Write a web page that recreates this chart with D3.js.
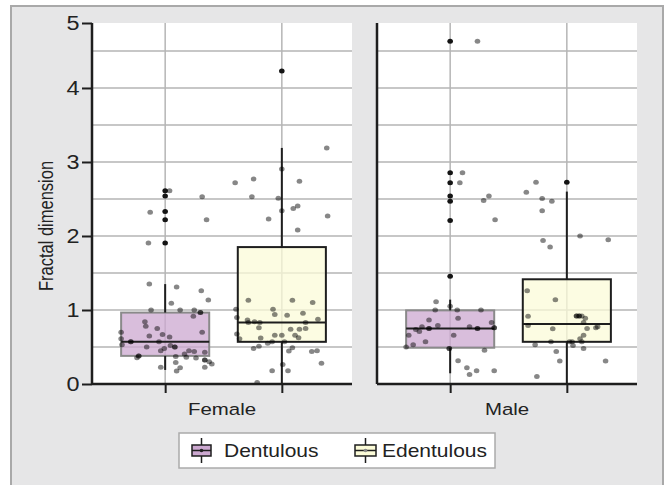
<!DOCTYPE html>
<html>
<head>
<meta charset="utf-8">
<script src="https://cdn.jsdelivr.net/npm/d3@7"></script>
<style>
  body { margin: 0; background: #fff; }
  text { font-family: "Liberation Sans", Arial, sans-serif; fill: #222; }
</style>
</head>
<body>
<div id="chart"></div>
<script>
// categories
const sexes = ["Female", "Male"];
const groups = ["Dentulous", "Edentulous"];

// box stats: [lower whisker, q1, median, q3, upper whisker]
const femaleDentulousBox = [0.19, 0.38, 0.57, 0.965, 1.35];
const femaleEdentulousBox = [0.01, 0.57, 0.83, 1.85, 3.19];
const maleDentulousBox = [0.145, 0.49, 0.75, 0.995, 1.14];
const maleEdentulousBox = [0.0, 0.57, 0.81, 1.415, 2.6];

// outliers
const femaleDentulousOut = [2.61, 2.54, 2.33, 2.22, 1.905];
const femaleEdentulousOut = [4.23];
const maleDentulousOut = [4.63, 2.855, 2.72, 2.54, 2.47, 2.21, 1.455];
const maleEdentulousOut = [2.725];

// jittered observations: [offset (fraction of box width), value]
const femaleDentulousPts = [
  [0.05, 2.61], [0.42, 2.53], [-0.17, 2.32], [0.47, 2.22], [-0.19, 1.905],
  [-0.18, 1.35], [0.13, 1.31], [0.41, 1.26], [0.07, 1.09], [0.49, 1.135],
  [-0.16, 1.0], [0.17, 1.0], [0.33, 1.0], [0.32, 0.915], [0.40, 0.965], [0.40, 0.965],
  [-0.23, 0.84], [-0.22, 0.78], [-0.09, 0.75], [-0.50, 0.70], [-0.18, 0.65],
  [-0.03, 0.67], [0.05, 0.635], [0.42, 0.70], [-0.50, 0.61], [-0.49, 0.53],
  [-0.39, 0.57], [-0.39, 0.57], [-0.07, 0.57], [0.06, 0.52], [0.11, 0.50], [0.11, 0.50],
  [-0.21, 0.50], [-0.05, 0.45], [-0.01, 0.48], [-0.30, 0.38], [-0.30, 0.38],
  [-0.32, 0.355], [0.12, 0.37], [0.22, 0.405], [0.27, 0.45], [0.33, 0.44],
  [0.45, 0.43], [0.24, 0.36], [0.35, 0.35], [0.45, 0.325], [0.45, 0.325], [0.50, 0.30],
  [0.53, 0.27], [0.12, 0.29], [-0.05, 0.225], [0.17, 0.22], [0.13, 0.175], [0.45, 0.225]
];
const femaleEdentulousPts = [
  [-0.53, 2.72], [-0.32, 2.77], [-0.34, 2.53], [-0.04, 2.51], [0.00, 2.905],
  [0.20, 2.74], [0.51, 3.19], [-0.15, 2.23], [0.00, 2.34], [0.13, 2.37],
  [0.18, 2.405], [0.18, 2.08], [0.52, 2.27], [-0.38, 1.13], [0.12, 1.13],
  [0.35, 1.10], [-0.52, 1.01], [-0.10, 1.01], [-0.08, 0.94], [0.06, 0.93],
  [0.24, 0.955], [-0.51, 0.90], [0.41, 0.875], [-0.39, 0.865], [-0.38, 0.83],
  [-0.31, 0.84], [-0.26, 0.76], [-0.25, 0.83], [0.27, 0.83], [0.10, 0.74],
  [0.20, 0.74], [0.27, 0.75], [-0.51, 0.675], [-0.48, 0.61], [-0.24, 0.62],
  [-0.08, 0.66], [0.00, 0.66], [0.15, 0.66], [0.19, 0.625], [-0.11, 0.57],
  [-0.16, 0.55], [0.03, 0.57], [-0.32, 0.48], [-0.26, 0.51], [0.08, 0.445],
  [0.12, 0.49], [0.34, 0.44], [0.40, 0.45], [0.45, 0.28], [0.01, 0.265],
  [-0.11, 0.18], [0.07, 0.18], [-0.28, 0.02]
];
const maleDentulousPts = [
  [0.31, 4.63], [0.14, 2.855], [0.11, 2.72], [0.44, 2.54], [0.38, 2.48],
  [0.51, 2.22], [-0.16, 1.11], [0.0, 1.05], [-0.17, 1.0], [0.08, 1.0],
  [0.35, 1.0], [-0.24, 0.865], [0.09, 0.89], [-0.14, 0.79], [-0.32, 0.775],
  [-0.35, 0.71], [-0.39, 0.735], [-0.24, 0.75], [-0.24, 0.75], [0.31, 0.75],
  [0.31, 0.75], [0.50, 0.76], [0.50, 0.76], [0.22, 0.775], [0.47, 0.83],
  [-0.47, 0.66], [0.04, 0.66], [-0.28, 0.57], [-0.50, 0.50], [-0.42, 0.53],
  [-0.01, 0.48], [-0.01, 0.48], [0.39, 0.455], [0.09, 0.315], [0.19, 0.22],
  [0.22, 0.13], [0.30, 0.18], [0.50, 0.18]
];
const maleEdentulousPts = [
  [-0.35, 2.725], [-0.46, 2.59], [-0.28, 2.505], [-0.17, 2.47], [-0.28, 2.34],
  [-0.27, 1.94], [-0.19, 1.85], [0.15, 2.0], [0.47, 1.95], [-0.45, 1.26],
  [-0.13, 1.14], [-0.44, 0.915], [0.11, 0.92], [0.11, 0.92], [0.14, 0.92],
  [0.14, 0.92], [0.17, 0.92], [0.21, 0.89], [0.19, 0.83], [-0.44, 0.79],
  [-0.16, 0.745], [0.23, 0.75], [0.33, 0.76], [0.35, 0.775], [0.19, 0.66],
  [0.15, 0.61], [-0.18, 0.57], [0.03, 0.57], [0.06, 0.57], [0.17, 0.57],
  [-0.36, 0.53], [0.07, 0.52], [0.19, 0.48], [-0.12, 0.44], [-0.08, 0.31],
  [0.44, 0.31], [-0.34, 0.10]
];

// y axis ticks (top of axis is labelled 5)
const yTop = 4.878;
const yTicks = [0, 1, 2, 3, 4, yTop];
const yTickLabels = ["0", "1", "2", "3", "4", "5"];

const series = [
  { sex: "Female", group: "Dentulous", box: femaleDentulousBox, out: femaleDentulousOut, pts: femaleDentulousPts },
  { sex: "Female", group: "Edentulous", box: femaleEdentulousBox, out: femaleEdentulousOut, pts: femaleEdentulousPts },
  { sex: "Male", group: "Dentulous", box: maleDentulousBox, out: maleDentulousOut, pts: maleDentulousPts },
  { sex: "Male", group: "Edentulous", box: maleEdentulousBox, out: maleEdentulousOut, pts: maleEdentulousPts }
];

const W = 665, H = 485;
const SX = 1.2; // the picture is wider than it is tall, text too

const svg = d3.select("#chart").append("svg")
  .attr("width", W).attr("height", H);

// outer frame
svg.append("rect")
  .attr("x", 11).attr("y", 6).attr("width", 652).attr("height", H)
  .attr("fill", "#e6e6e7").attr("stroke", "#a9a9a9").attr("stroke-width", 2);

const y = d3.scaleLinear().domain([0, yTop]).range([384, 23]);
const panel = d3.scaleBand().domain(sexes).range([92, 637]).paddingInner(25 / 285);
const xIn = d3.scalePoint().domain(groups).range([2, 261]).padding(0.61);
const boxW = xIn.step() * 0.755;

const fill = { Dentulous: "#cca8d0", Edentulous: "#fbfbd8" };
const edge = { Dentulous: "#8a8a8a", Edentulous: "#1e1e1e" };

sexes.forEach(sex => {
  const g = svg.append("g").attr("transform", `translate(${panel(sex)},0)`);
  const pw = panel.bandwidth();

  g.append("rect").attr("x", 0).attr("y", y(yTop)).attr("width", pw)
    .attr("height", y(0) - y(yTop)).attr("fill", "#fff");

  // horizontal grid every 0.5
  g.append("g").selectAll("line")
    .data(d3.range(0.5, 4.6, 0.5))
    .join("line")
    .attr("x1", 0).attr("x2", pw)
    .attr("y1", d => y(d)).attr("y2", d => y(d))
    .attr("stroke", "#b5b5b5").attr("stroke-width", 1.5);

  // vertical grid at group centres
  g.append("g").selectAll("line")
    .data(groups)
    .join("line")
    .attr("x1", d => xIn(d)).attr("x2", d => xIn(d))
    .attr("y1", y(yTop)).attr("y2", y(0))
    .attr("stroke", "#b5b5b5").attr("stroke-width", 1.5);

  const rows = series.filter(s => s.sex === sex);

  rows.forEach(s => {
    const cx = xIn(s.group);
    const [lo, q1, med, q3, hi] = s.box;
    g.append("rect")
      .attr("x", cx - boxW / 2).attr("width", boxW)
      .attr("y", y(q3)).attr("height", y(q1) - y(q3))
      .attr("fill", fill[s.group]).attr("fill-opacity", 0.75)
      .attr("stroke", edge[s.group]).attr("stroke-width", 2);
    g.append("line").attr("x1", cx).attr("x2", cx)
      .attr("y1", y(hi)).attr("y2", y(q3))
      .attr("stroke", "#1e1e1e").attr("stroke-width", 2);
    g.append("line").attr("x1", cx).attr("x2", cx)
      .attr("y1", y(q1)).attr("y2", y(lo))
      .attr("stroke", "#1e1e1e").attr("stroke-width", 2);
    g.append("line")
      .attr("x1", cx - boxW / 2).attr("x2", cx + boxW / 2)
      .attr("y1", y(med)).attr("y2", y(med))
      .attr("stroke", "#1e1e1e").attr("stroke-width", 2);
  });

  rows.forEach(s => {
    const cx = xIn(s.group);
    g.append("g").selectAll("ellipse")
      .data(s.out)
      .join("ellipse")
      .attr("cx", cx).attr("cy", d => y(d)).attr("rx", 2.8).attr("ry", 2.5)
      .attr("fill", "#141414");
    g.append("g").selectAll("ellipse")
      .data(s.pts)
      .join("ellipse")
      .attr("cx", d => cx + d[0] * boxW).attr("cy", d => y(d[1]))
      .attr("rx", 2.8).attr("ry", 2.5)
      .attr("fill", "#000").attr("fill-opacity", 0.47);
  });

  // axes
  g.append("g")
    .attr("transform", `translate(0,${y(0)})`)
    .call(d3.axisBottom(xIn).tickSize(9).tickSizeOuter(0).tickFormat(""))
    .call(a => a.select(".domain").attr("d", `M0,0H${pw}`).attr("stroke-width", 2.5).attr("stroke", "#1e1e1e"))
    .call(a => a.selectAll(".tick line").attr("stroke", "#1e1e1e").attr("stroke-width", 2));

  g.append("line").attr("x1", 0).attr("x2", 0)
    .attr("y1", y(yTop)).attr("y2", y(0))
    .attr("stroke", "#1e1e1e").attr("stroke-width", 2.5);

  g.append("text")
    .attr("transform", `translate(${pw / 2},415) scale(${SX},1)`)
    .attr("text-anchor", "middle").attr("font-size", 17)
    .text(sex);
});

// y axis on the left panel
const yAxis = svg.append("g")
  .attr("transform", `translate(${panel("Female")},0)`)
  .call(d3.axisLeft(y).tickValues(yTicks).tickSize(10).tickSizeOuter(0)
    .tickFormat((d, i) => yTickLabels[i]));
yAxis.select(".domain").remove();
yAxis.selectAll(".tick line").attr("stroke", "#1e1e1e").attr("stroke-width", 2);
yAxis.selectAll(".tick text")
  .attr("x", 0).attr("font-size", 19.5).attr("fill", "#222")
  .attr("transform", `translate(-12.5,0) scale(${SX},1)`)
  .style("font-family", "Liberation Sans, Arial, sans-serif");

svg.append("text")
  .attr("transform", `translate(53,226) rotate(-90) scale(1,${SX})`)
  .attr("text-anchor", "middle").attr("font-size", 16.5)
  .text("Fractal dimension");

// legend
const lg = svg.append("g").attr("transform", "translate(179,433)");
lg.append("rect").attr("width", 316).attr("height", 35)
  .attr("fill", "#fff").attr("stroke", "#ababab").attr("stroke-width", 1.5);

const legendItems = [
  { key: "Dentulous", x: 13, w: 19, tx: 45 },
  { key: "Edentulous", x: 176, w: 21, tx: 203 }
];
legendItems.forEach(it => {
  const item = lg.append("g").attr("transform", `translate(${it.x},0)`);
  const mid = it.w / 2;
  item.append("line").attr("x1", mid).attr("x2", mid).attr("y1", 5).attr("y2", 30)
    .attr("stroke", "#1e1e1e").attr("stroke-width", 1.5);
  item.append("rect").attr("x", 0).attr("y", 12).attr("width", it.w).attr("height", 11)
    .attr("fill", fill[it.key]).attr("stroke", "#1e1e1e").attr("stroke-width", 1.5);
  item.append("line").attr("x1", 0).attr("x2", it.w).attr("y1", 17.5).attr("y2", 17.5)
    .attr("stroke", "#1e1e1e").attr("stroke-width", 1.5);
  item.append("circle").attr("cx", mid).attr("cy", 17.5).attr("r", 1.8)
    .attr("fill", it.key === "Dentulous" ? "#222" : "#888");
  lg.append("text")
    .attr("transform", `translate(${it.tx},23.5) scale(${SX},1)`)
    .attr("font-size", 17.5).text(it.key);
});
</script>
</body>
</html>
